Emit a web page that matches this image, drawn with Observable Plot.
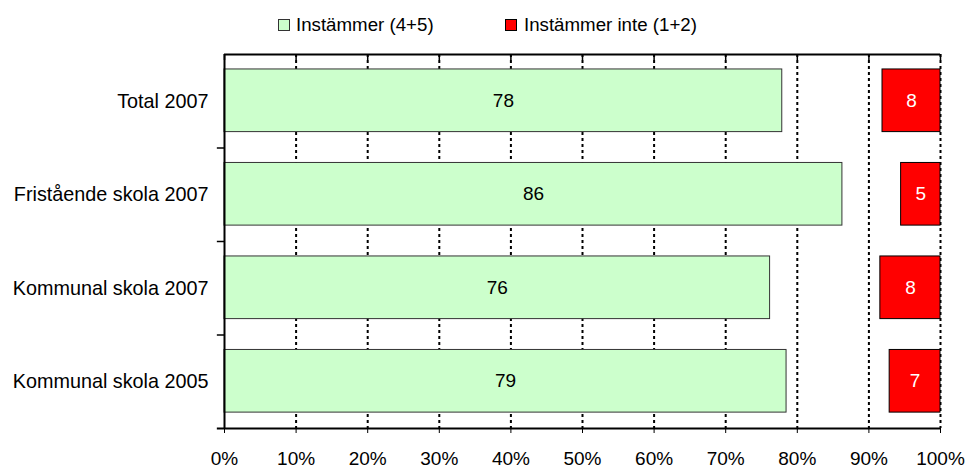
<!DOCTYPE html>
<html><head><meta charset="utf-8">
<script src="https://cdn.jsdelivr.net/npm/d3@7"></script>
<script src="https://cdn.jsdelivr.net/npm/@observablehq/plot@0.6"></script>
<style>
body{margin:0;background:#fff;font-family:"Liberation Sans",Arial,sans-serif;}
#legend{position:relative;width:966px;height:40px;font-size:18.7px;color:#000;}
.sw{position:absolute;top:19px;width:10px;height:10px;border:1px solid #333;}
.lt{position:absolute;top:14px;line-height:22px;white-space:nowrap;}
#chart svg{display:block;}
</style></head><body>
<div id="legend">
  <div class="sw" style="left:278px;background:#ccffcc;"></div>
  <div class="lt" style="left:296px;">Instämmer (4+5)</div>
  <div class="sw" style="left:505px;background:#ff0000;border-color:#000;"></div>
  <div class="lt" style="left:524px;">Instämmer inte (1+2)</div>
</div>
<div id="chart"></div>
<script>
const categories = ["Total 2007", "Fristående skola 2007", "Kommunal skola 2007", "Kommunal skola 2005"];
const agree = [77.9, 86.3, 76.2, 78.5];
const disagree = [8.1, 5.5, 8.4, 7.1];
const agreeLabels = ["78", "86", "76", "79"];
const disagreeLabels = ["8", "5", "8", "7"];
const xTicks = [0, 10, 20, 30, 40, 50, 60, 70, 80, 90, 100];

const rows = categories.map((c, i) => ({c, i, agree: agree[i], disagree: disagree[i], al: agreeLabels[i], dl: disagreeLabels[i]}));

const plot = Plot.plot({
  width: 966, height: 428,
  marginTop: 14, marginBottom: 40, marginLeft: 224, marginRight: 26,
  style: {fontFamily: '"Liberation Sans", Arial, sans-serif', fontSize: "19px", color: "#000", background: "#fff"},
  x: {domain: [0, 100], label: null},
  y: {domain: [0, 4], reverse: true, axis: null, label: null},
  marks: [
    Plot.ruleX(xTicks.slice(1), {y1: 0, y2: 4, stroke: "#000", strokeWidth: 2, strokeDasharray: "3,3"}),
    Plot.rectX(rows, {x1: 0, x2: "agree", y1: d => d.i + 0.16, y2: d => d.i + 0.83, fill: "#ccffcc", stroke: "#333", strokeWidth: 1}),
    Plot.rectX(rows, {x1: d => 100 - d.disagree, x2: 100, y1: d => d.i + 0.16, y2: d => d.i + 0.83, fill: "#ff0000", stroke: "#000", strokeWidth: 1}),
    Plot.text(rows, {x: d => d.agree / 2, y: d => d.i + 0.495, text: "al", fill: "#000", fontSize: 19}),
    Plot.text(rows, {x: d => 100 - d.disagree / 2, y: d => d.i + 0.495, text: "dl", fill: "#fff", fontSize: 19}),
    Plot.ruleY([0], {x1: 0, x2: 100, stroke: "#000", strokeWidth: 2}),
    Plot.ruleX(xTicks, {y1: 0, y2: 0.064, stroke: "#000", strokeWidth: 1.5}),
    Plot.ruleX([0], {y1: 0, y2: 4, stroke: "#000", strokeWidth: 2}),
    Plot.ruleY([1, 2, 3], {x1: -1, x2: 0, stroke: "#000", strokeWidth: 1.5}),
    Plot.ruleY([4], {x1: -1, x2: 100, stroke: "#000", strokeWidth: 2}),
    Plot.axisX(xTicks, {anchor: "bottom", label: null, tickSize: 5, tickPadding: 18, tickFormat: d => d + "%", fontSize: 19, stroke: "#000"}),
    Plot.text(rows, {x: 0, y: d => d.i + 0.5, text: "c", textAnchor: "end", dx: -16, fill: "#000", fontSize: 19.8})
  ]
});
document.getElementById("chart").appendChild(plot);
</script>
</body></html>
